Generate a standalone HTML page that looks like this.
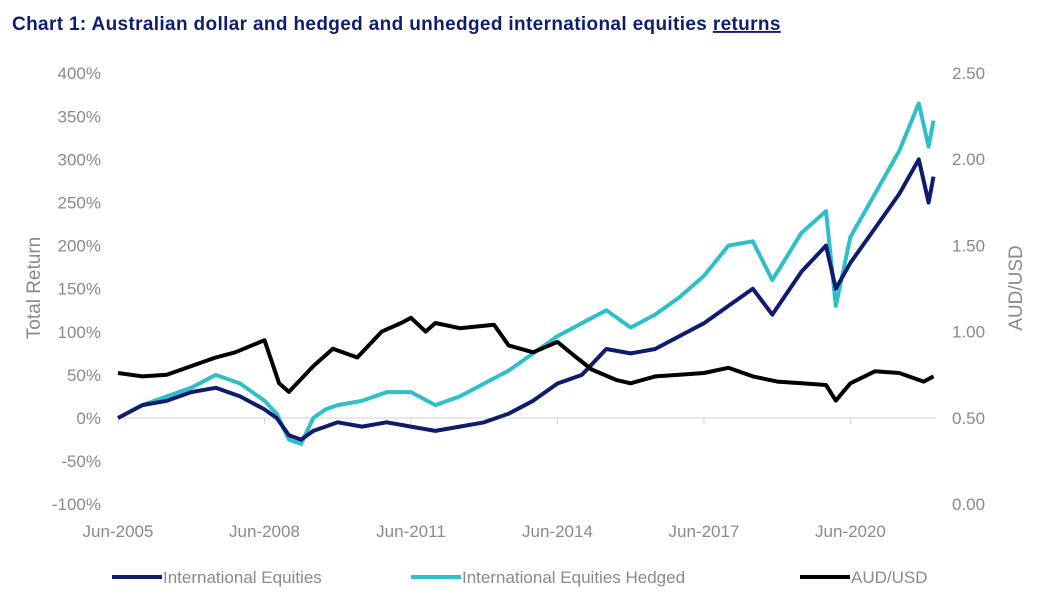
<!DOCTYPE html>
<html><head><meta charset="utf-8"><style>
body{margin:0;background:#fff;width:1063px;height:603px;overflow:hidden;font-family:"Liberation Sans",sans-serif}
</style></head><body>
<svg width="1063" height="603">
<text x="12" y="30" font-size="19" letter-spacing="0.35" font-weight="bold" fill="#0e1e6e">Chart 1: Australian dollar and hedged and unhedged international equities <tspan text-decoration="underline">returns</tspan></text>
<g id="axes"></g>
<g id="lines"></g>
<g id="legend"></g>
</svg>
<script>
const leftTicks=[400,350,300,250,200,150,100,50,0,-50,-100];
const rightTicks=[2.5,2.0,1.5,1.0,0.5,0.0];
const xTicks=[2005.5,2008.5,2011.5,2014.5,2017.5,2020.5];
const xTickLabels=["Jun-2005","Jun-2008","Jun-2011","Jun-2014","Jun-2017","Jun-2020"];
const eqT=[2005.5,2006,2006.5,2007,2007.5,2008,2008.5,2008.75,2009,2009.25,2009.5,2009.75,2010,2010.5,2011,2011.5,2012,2012.5,2013,2013.5,2014,2014.5,2015,2015.5,2016,2016.5,2017,2017.5,2018,2018.5,2018.9,2019.5,2020,2020.2,2020.5,2021,2021.5,2021.9,2022.1,2022.2];
const eqV=[0,15,20,30,35,25,10,0,-20,-25,-15,-10,-5,-10,-5,-10,-15,-10,-5,5,20,40,50,80,75,80,95,110,130,150,120,170,200,150,180,220,260,300,250,280];
const hgV=[0,15,25,35,50,40,20,5,-25,-30,0,10,15,20,30,30,15,25,40,55,75,95,110,125,105,120,140,165,200,205,160,215,240,130,210,260,310,365,315,345];
const audT=[2005.5,2006,2006.5,2007,2007.5,2007.9,2008.5,2008.8,2009,2009.5,2009.9,2010.4,2010.9,2011.3,2011.5,2011.8,2012,2012.5,2013.2,2013.5,2014,2014.5,2014.8,2015.2,2015.7,2016,2016.5,2017,2017.5,2018,2018.5,2019,2019.5,2020,2020.2,2020.5,2021,2021.5,2022,2022.2];
const audV=[0.76,0.74,0.75,0.80,0.85,0.88,0.95,0.70,0.65,0.80,0.90,0.85,1.00,1.05,1.08,1.00,1.05,1.02,1.04,0.92,0.88,0.94,0.87,0.78,0.72,0.70,0.74,0.75,0.76,0.79,0.74,0.71,0.70,0.69,0.60,0.70,0.77,0.76,0.71,0.74];
const X=t=>118+(t-2005.5)*48.83;
const YL=v=>418-v*0.862;
const YR=v=>504-v*172.4;
const NS="http://www.w3.org/2000/svg";
function mk(tag,attrs,parent){const e=document.createElementNS(NS,tag);for(const k in attrs)e.setAttribute(k,attrs[k]);parent.appendChild(e);return e;}
const ax=document.getElementById('axes');
leftTicks.forEach(v=>{const t=mk('text',{x:101,y:YL(v)+6,'text-anchor':'end','font-size':17,fill:'#8a8a8a'},ax);t.textContent=v+'%';

});
rightTicks.forEach(v=>{const t=mk('text',{x:952,y:YR(v)+6,'font-size':17,fill:'#8a8a8a'},ax);t.textContent=v.toFixed(2);

});
const base=mk('line',{x1:118,x2:936,y1:418,y2:418,stroke:'#d0d0d0','stroke-width':1},ax);


xTicks.forEach((v,i)=>{const l=mk('line',{x1:X(v),x2:X(v),y1:418,y2:424,stroke:'#d0d0d0'},ax);


const t=mk('text',{x:X(v),y:537,'text-anchor':'middle','font-size':17,fill:'#8a8a8a'},ax);t.textContent=xTickLabels[i];

});
const yt=mk('text',{x:40,y:288,'text-anchor':'middle','font-size':19,fill:'#8a8a8a',transform:'rotate(-90 40 288)'},ax);yt.textContent='Total Return';


const yr=mk('text',{x:1022,y:288,'text-anchor':'middle','font-size':19,fill:'#8a8a8a',transform:'rotate(-90 1022 288)'},ax);yr.textContent='AUD/USD';


const ln=document.getElementById('lines');
function path(ts,vs,f){return ts.map((t,i)=>(i?'L':'M')+X(t).toFixed(1)+','+f(vs[i]).toFixed(1)).join('');}
const p1=mk('path',{d:path(eqT,hgV,YL),fill:'none',stroke:'#2fbfc9','stroke-width':4,'stroke-linejoin':'round'},ln);


const p2=mk('path',{d:path(eqT,eqV,YL),fill:'none',stroke:'#0f1c6e','stroke-width':4,'stroke-linejoin':'round'},ln);


const p3=mk('path',{d:path(audT,audV,YR),fill:'none',stroke:'#000','stroke-width':4,'stroke-linejoin':'round'},ln);


const lg=document.getElementById('legend');
[['#0f1c6e','International Equities',112],['#2fbfc9','International Equities Hedged',411],['#000','AUD/USD',800]].forEach(([c,n,x])=>{
const g=mk('g',{},lg);


mk('line',{x1:x,x2:x+50,y1:577,y2:577,stroke:c,'stroke-width':4},g);
const t=mk('text',{x:x+51,y:583,'font-size':17,fill:'#8a8a8a'},g);t.textContent=n;});
</script>
</body></html>
